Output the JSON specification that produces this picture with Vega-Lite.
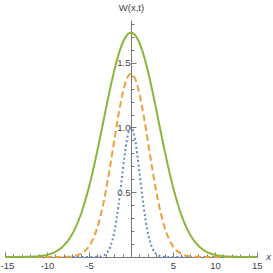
{
  "$schema": "https://vega.github.io/schema/vega-lite/v6.json",
  "width": 252,
  "height": 237,
  "autosize": {"type": "none"},
  "padding": {"left": 5, "top": 20, "right": 16, "bottom": 16},
  "background": "white",
  "config": {
    "view": {"stroke": null},
    "axis": {
      "grid": false,
      "domainColor": "#777777",
      "domainWidth": 1,
      "tickColor": "#777777",
      "tickWidth": 1,
      "labelColor": "#444444",
      "labelFont": "Liberation Sans",
      "labelFontSize": 9.5,
      "titleFont": "Liberation Sans",
      "titleFontSize": 9.5,
      "titleFontWeight": "normal",
      "titleColor": "#444444",
      "labelOverlap": false,
      "labelFlush": false
    }
  },
  "data": {
    "values": [
      {"series": "t1", "x": -15, "w": 0},
      {"series": "t1", "x": -5, "w": 0},
      {"series": "t1", "x": -4.5, "w": 0.0002},
      {"series": "t1", "x": -4, "w": 0.0013},
      {"series": "t1", "x": -3.5, "w": 0.0061},
      {"series": "t1", "x": -3, "w": 0.0235},
      {"series": "t1", "x": -2.75, "w": 0.0428},
      {"series": "t1", "x": -2.5, "w": 0.074},
      {"series": "t1", "x": -2.25, "w": 0.1213},
      {"series": "t1", "x": -2, "w": 0.1889},
      {"series": "t1", "x": -1.75, "w": 0.2792},
      {"series": "t1", "x": -1.5, "w": 0.3916},
      {"series": "t1", "x": -1.25, "w": 0.5215},
      {"series": "t1", "x": -1, "w": 0.6592},
      {"series": "t1", "x": -0.75, "w": 0.7911},
      {"series": "t1", "x": -0.5, "w": 0.9011},
      {"series": "t1", "x": -0.25, "w": 0.9743},
      {"series": "t1", "x": 0, "w": 1},
      {"series": "t1", "x": 0.25, "w": 0.9743},
      {"series": "t1", "x": 0.5, "w": 0.9011},
      {"series": "t1", "x": 0.75, "w": 0.7911},
      {"series": "t1", "x": 1, "w": 0.6592},
      {"series": "t1", "x": 1.25, "w": 0.5215},
      {"series": "t1", "x": 1.5, "w": 0.3916},
      {"series": "t1", "x": 1.75, "w": 0.2792},
      {"series": "t1", "x": 2, "w": 0.1889},
      {"series": "t1", "x": 2.25, "w": 0.1213},
      {"series": "t1", "x": 2.5, "w": 0.074},
      {"series": "t1", "x": 2.75, "w": 0.0428},
      {"series": "t1", "x": 3, "w": 0.0235},
      {"series": "t1", "x": 3.5, "w": 0.0061},
      {"series": "t1", "x": 4, "w": 0.0013},
      {"series": "t1", "x": 4.5, "w": 0.0002},
      {"series": "t1", "x": 5, "w": 0},
      {"series": "t1", "x": 15, "w": 0},

      {"series": "t2", "x": -15, "w": 0},
      {"series": "t2", "x": -10, "w": 0},
      {"series": "t2", "x": -9, "w": 0.0001},
      {"series": "t2", "x": -8, "w": 0.001},
      {"series": "t2", "x": -7.5, "w": 0.0024},
      {"series": "t2", "x": -7, "w": 0.0054},
      {"series": "t2", "x": -6.5, "w": 0.0116},
      {"series": "t2", "x": -6, "w": 0.0237},
      {"series": "t2", "x": -5.5, "w": 0.0455},
      {"series": "t2", "x": -5, "w": 0.0826},
      {"series": "t2", "x": -4.5, "w": 0.1417},
      {"series": "t2", "x": -4, "w": 0.2295},
      {"series": "t2", "x": -3.5, "w": 0.3516},
      {"series": "t2", "x": -3, "w": 0.5086},
      {"series": "t2", "x": -2.5, "w": 0.6951},
      {"series": "t2", "x": -2, "w": 0.8977},
      {"series": "t2", "x": -1.5, "w": 1.0952},
      {"series": "t2", "x": -1, "w": 1.2623},
      {"series": "t2", "x": -0.5, "w": 1.3746},
      {"series": "t2", "x": 0, "w": 1.4142},
      {"series": "t2", "x": 0.5, "w": 1.3746},
      {"series": "t2", "x": 1, "w": 1.2623},
      {"series": "t2", "x": 1.5, "w": 1.0952},
      {"series": "t2", "x": 2, "w": 0.8977},
      {"series": "t2", "x": 2.5, "w": 0.6951},
      {"series": "t2", "x": 3, "w": 0.5086},
      {"series": "t2", "x": 3.5, "w": 0.3516},
      {"series": "t2", "x": 4, "w": 0.2295},
      {"series": "t2", "x": 4.5, "w": 0.1417},
      {"series": "t2", "x": 5, "w": 0.0826},
      {"series": "t2", "x": 5.5, "w": 0.0455},
      {"series": "t2", "x": 6, "w": 0.0237},
      {"series": "t2", "x": 6.5, "w": 0.0116},
      {"series": "t2", "x": 7, "w": 0.0054},
      {"series": "t2", "x": 7.5, "w": 0.0024},
      {"series": "t2", "x": 8, "w": 0.001},
      {"series": "t2", "x": 9, "w": 0.0001},
      {"series": "t2", "x": 10, "w": 0},
      {"series": "t2", "x": 15, "w": 0},

      {"series": "t3", "x": -15, "w": 0},
      {"series": "t3", "x": -14, "w": 0.0002},
      {"series": "t3", "x": -13, "w": 0.0007},
      {"series": "t3", "x": -12, "w": 0.0021},
      {"series": "t3", "x": -11, "w": 0.0062},
      {"series": "t3", "x": -10.5, "w": 0.0103},
      {"series": "t3", "x": -10, "w": 0.0165},
      {"series": "t3", "x": -9.5, "w": 0.026},
      {"series": "t3", "x": -9, "w": 0.04},
      {"series": "t3", "x": -8.5, "w": 0.0601},
      {"series": "t3", "x": -8, "w": 0.0883},
      {"series": "t3", "x": -7.5, "w": 0.1266},
      {"series": "t3", "x": -7, "w": 0.1773},
      {"series": "t3", "x": -6.5, "w": 0.2428},
      {"series": "t3", "x": -6, "w": 0.3246},
      {"series": "t3", "x": -5.5, "w": 0.4241},
      {"series": "t3", "x": -5, "w": 0.5415},
      {"series": "t3", "x": -4.5, "w": 0.6754},
      {"series": "t3", "x": -4, "w": 0.823},
      {"series": "t3", "x": -3.5, "w": 0.9798},
      {"series": "t3", "x": -3, "w": 1.1396},
      {"series": "t3", "x": -2.5, "w": 1.2952},
      {"series": "t3", "x": -2, "w": 1.438},
      {"series": "t3", "x": -1.5, "w": 1.56},
      {"series": "t3", "x": -1, "w": 1.6534},
      {"series": "t3", "x": -0.5, "w": 1.7121},
      {"series": "t3", "x": 0, "w": 1.7321},
      {"series": "t3", "x": 0.5, "w": 1.7121},
      {"series": "t3", "x": 1, "w": 1.6534},
      {"series": "t3", "x": 1.5, "w": 1.56},
      {"series": "t3", "x": 2, "w": 1.438},
      {"series": "t3", "x": 2.5, "w": 1.2952},
      {"series": "t3", "x": 3, "w": 1.1396},
      {"series": "t3", "x": 3.5, "w": 0.9798},
      {"series": "t3", "x": 4, "w": 0.823},
      {"series": "t3", "x": 4.5, "w": 0.6754},
      {"series": "t3", "x": 5, "w": 0.5415},
      {"series": "t3", "x": 5.5, "w": 0.4241},
      {"series": "t3", "x": 6, "w": 0.3246},
      {"series": "t3", "x": 6.5, "w": 0.2428},
      {"series": "t3", "x": 7, "w": 0.1773},
      {"series": "t3", "x": 7.5, "w": 0.1266},
      {"series": "t3", "x": 8, "w": 0.0883},
      {"series": "t3", "x": 8.5, "w": 0.0601},
      {"series": "t3", "x": 9, "w": 0.04},
      {"series": "t3", "x": 9.5, "w": 0.026},
      {"series": "t3", "x": 10, "w": 0.0165},
      {"series": "t3", "x": 10.5, "w": 0.0103},
      {"series": "t3", "x": 11, "w": 0.0062},
      {"series": "t3", "x": 12, "w": 0.0021},
      {"series": "t3", "x": 13, "w": 0.0007},
      {"series": "t3", "x": 14, "w": 0.0002},
      {"series": "t3", "x": 15, "w": 0}
    ]
  },
  "mark": {"type": "line", "interpolate": "monotone", "clip": false},
  "encoding": {
    "x": {
      "field": "x",
      "type": "quantitative",
      "scale": {"domain": [-15, 15], "nice": false, "zero": false},
      "axis": {
        "values": [-15, -14, -13, -12, -11, -10, -9, -8, -7, -6, -5, -4, -3, -2, -1, 1, 2, 3, 4, 5, 6, 7, 8, 9, 10, 11, 12, 13, 14, 15],
        "labelExpr": "datum.value % 5 === 0 ? '' + datum.value : ''",
        "tickSize": {"condition": {"test": "datum.value % 5 === 0", "value": -5}, "value": -3},
        "labelPadding": 8,
        "labelFlush": true,
        "labelFlushOffset": 5,
        "title": "x",
        "titleFontStyle": "italic",
        "titleX": 263,
        "titleY": -1,
        "titleAlign": "center",
        "titleBaseline": "middle"
      }
    },
    "y": {
      "field": "w",
      "type": "quantitative",
      "scale": {"domain": [0, 1.83], "nice": false},
      "axis": {
        "offset": -126,
        "values": [0.1, 0.2, 0.3, 0.4, 0.5, 0.6, 0.7, 0.8, 0.9, 1.0, 1.1, 1.2, 1.3, 1.4, 1.5, 1.6, 1.7, 1.8],
        "labelExpr": "abs(datum.value * 2 - round(datum.value * 2)) < 0.001 ? format(datum.value, '.1f') : ''",
        "tickSize": {"condition": {"test": "abs(datum.value * 2 - round(datum.value * 2)) < 0.001", "value": -5}, "value": -3},
        "labelPadding": 6,
        "title": "W(x,t)",
        "titleAngle": 0,
        "titleX": 0,
        "titleY": -13,
        "titleAlign": "center",
        "titleBaseline": "middle"
      }
    },
    "color": {
      "field": "series",
      "type": "nominal",
      "scale": {"domain": ["t1", "t2", "t3"], "range": ["#6689C2", "#E8A33A", "#8DB43A"]},
      "legend": null
    },
    "strokeDash": {
      "field": "series",
      "type": "nominal",
      "scale": {"domain": ["t1", "t2", "t3"], "range": [[2, 2.5], [6.5, 3.5], [1, 0]]},
      "legend": null
    },
    "strokeWidth": {
      "field": "series",
      "type": "ordinal",
      "scale": {"domain": ["t1", "t2", "t3"], "range": [2, 2, 2.7]},
      "legend": null
    }
  }
}
